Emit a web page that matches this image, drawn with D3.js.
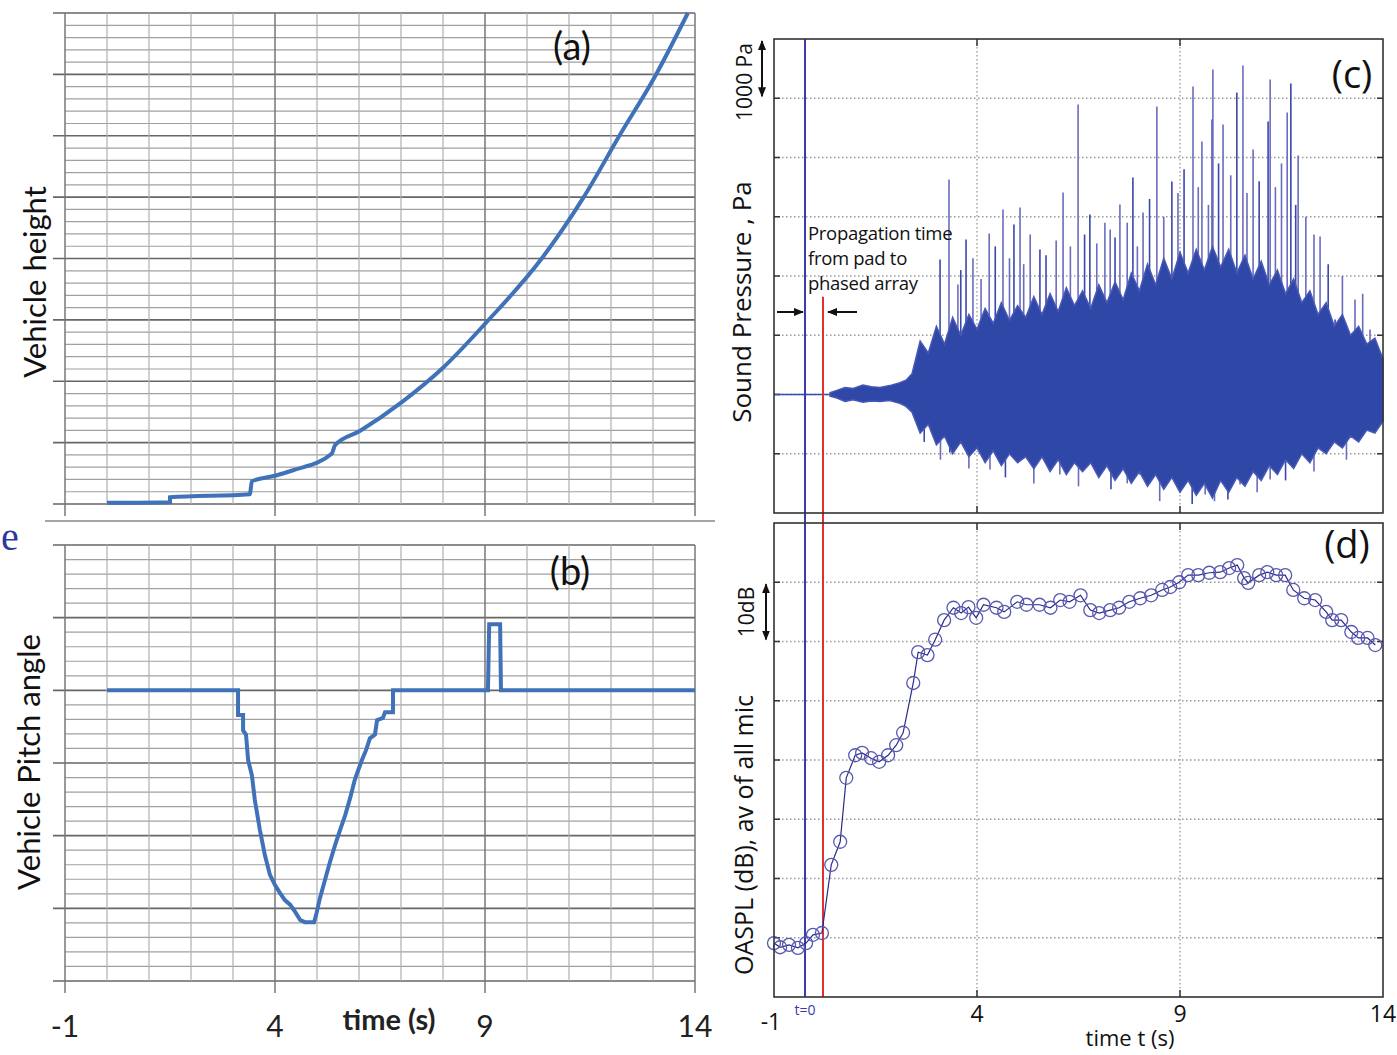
<!DOCTYPE html>
<html><head><meta charset="utf-8">
<script src="https://cdn.jsdelivr.net/npm/d3@7"></script>
<style>
html,body{margin:0;padding:0;background:#fff;}
svg{display:block;}
</style></head>
<body><svg id="c" width="1397" height="1055"></svg>
<script>
// ---------- DATA ----------
// (a) vehicle height, grid units (major divisions), vs time (s)
const heightT = [0, 1.5, 1.5, 3.4, 3.45, 4.0, 4.43, 5.35, 5.43, 6.02, 7.02, 8.0, 9.02, 10.35, 11.35, 12.2, 13.05, 13.83];
const heightV = [0.02, 0.03, 0.11, 0.16, 0.37, 0.46, 0.55, 0.82, 0.96, 1.19, 1.66, 2.22, 2.95, 4.0, 5.0, 6.0, 6.97, 8.0];
// (b) vehicle pitch angle, grid units
const pitchT = [0, 3.12, 3.12, 3.24, 3.24, 3.31, 3.36, 3.45, 3.52, 3.64, 3.76, 3.88, 4.0, 4.12, 4.24, 4.36, 4.48, 4.60, 4.71, 4.93, 4.98, 5.07, 5.19, 5.31, 5.43, 5.55, 5.67, 5.79, 5.90, 5.98, 6.07, 6.17, 6.26, 6.38, 6.43, 6.57, 6.62, 6.81, 6.81, 9.07, 9.10, 9.36, 9.38, 14.0];
const pitchV = [4.0, 4.0, 3.66, 3.66, 3.45, 3.39, 3.04, 2.83, 2.49, 2.08, 1.73, 1.46, 1.32, 1.21, 1.11, 1.05, 0.95, 0.84, 0.81, 0.81, 0.91, 1.14, 1.39, 1.64, 1.87, 2.08, 2.28, 2.52, 2.77, 2.90, 3.04, 3.18, 3.34, 3.39, 3.59, 3.62, 3.70, 3.70, 4.0, 4.0, 4.91, 4.91, 4.0, 4.0];
// (c) sound pressure envelope (Pa)
const envT  = [0.38, 0.55, 0.75, 0.95, 1.19, 1.4, 1.61, 1.85, 2.10, 2.25, 2.4, 2.6, 2.8, 3.0, 3.2, 3.4, 3.6, 3.8, 4.0, 4.2, 4.4, 4.6, 4.8, 5.0, 5.2, 5.4, 5.6, 5.8, 6.0, 6.2, 6.4, 6.6, 6.8, 7.0, 7.2, 7.4, 7.6, 7.8, 8.0, 8.2, 8.4, 8.6, 8.8, 9.0, 9.2, 9.4, 9.6, 9.8, 10.0, 10.2, 10.4, 10.6, 10.8, 11.0, 11.2, 11.4, 11.6, 11.8, 12.0, 12.2, 12.4, 12.6, 12.8, 13.0, 13.2, 13.4, 13.6, 13.8, 14.0];
const envUp = [30, 70, 118, 100, 160, 130, 120, 150, 200, 240, 350, 900, 700, 1150, 850, 1300, 1000, 1350, 1100, 1450, 1200, 1550, 1250, 1500, 1300, 1650, 1350, 1700, 1400, 1800, 1500, 1750, 1450, 1850, 1550, 1900, 1600, 2050, 1750, 2200, 1850, 2300, 1950, 2400, 2050, 2450, 2100, 2500, 2150, 2450, 2050, 2350, 1950, 2250, 1850, 2100, 1700, 1950, 1550, 1750, 1350, 1550, 1150, 1350, 1000, 1150, 850, 950, 600];
const envLo = [-30, -60, -118, -90, -130, -110, -120, -100, -150, -200, -300, -650, -500, -850, -700, -1000, -800, -1050, -900, -1150, -950, -1200, -1000, -1150, -1050, -1250, -1050, -1300, -1100, -1350, -1150, -1300, -1150, -1400, -1200, -1450, -1250, -1500, -1300, -1550, -1350, -1600, -1400, -1650, -1450, -1700, -1500, -1750, -1450, -1650, -1400, -1550, -1300, -1450, -1200, -1350, -1100, -1250, -1000, -1150, -900, -1000, -800, -900, -700, -800, -600, -650, -450];
// (c) individual pressure peaks (Pa)
const spikeT = [3.09, 3.31, 3.53, 3.73, 4.30, 4.64, 4.91, 5.06, 5.31, 5.55, 6.12, 6.49, 6.78, 7.28, 7.52, 7.84, 8.09, 8.43, 8.80, 9.32, 9.54, 9.79, 9.81, 10.06, 10.40, 10.55, 10.80, 11.17, 11.22, 11.64, 11.73, 11.91, 12.45, 12.82, 13.31, 13.68,
                3.6, 3.9, 4.1, 4.45, 4.8, 5.15, 5.7, 5.95, 6.3, 6.65, 6.95, 7.15, 7.4, 7.7, 7.95, 8.25, 8.6, 8.95, 9.1, 9.45, 9.7, 9.95, 10.25, 10.65, 10.95, 11.35, 11.5, 11.85, 12.1, 12.3, 12.65, 13.0, 13.5,
                3.33, 4.32, 6.04, 8.01, 9.0, 9.62, 10.18, 10.48, 11.22, 2.7, 3.1, 3.8, 4.7, 5.4, 6.5, 7.3, 7.7, 8.5, 9.3, 9.85, 10.9, 11.6, 12.3, 13.1];
const spikeV = [2279, 3630, 1857, 2616, 2718, 3123, 2870, 3157, 2700, 2448, 3410, 4895, 3038, 2785, 3207, 3663, 3072, 4861, 3595, 5199, 4270, 4642, 5486, 4558, 5098, 5553, 4136, 4608, 5317, 4760, 5250, 4034, 2667, 1266, 1604, 1097,
                2100, 2300, 1950, 2500, 2300, 2200, 2350, 2600, 2500, 2700, 2550, 2900, 2650, 2900, 2500, 3300, 3000, 3400, 3800, 3500, 3200, 3900, 3700, 3400, 3600, 3500, 3900, 3200, 3000, 2700, 2200, 2000, 1700,
                -979, -1266, -1350, -1350, -1604, -1688, -1772, -1519, -1435, -800, -1100, -1250, -1400, -1500, -1550, -1600, -1500, -1800, -1850, -1800, -1650, -1450, -1300, -1100];
// (d) OASPL averaged over all microphones (dB, relative)
const oasplT = [-1.00, -0.85, -0.63, -0.41, -0.21, -0.04, 0.18, 0.41, 0.63, 0.78, 1.00, 1.17, 1.39, 1.59, 1.81, 2.01, 2.18, 2.43, 2.55, 2.78, 2.97, 3.19, 3.42, 3.61, 3.79, 3.98, 4.16, 4.48, 4.67, 4.99, 5.22, 5.54, 5.81, 6.05, 6.28, 6.55, 6.79, 7.01, 7.28, 7.50, 7.75, 8.02, 8.29, 8.56, 8.76, 8.98, 9.20, 9.45, 9.72, 9.99, 10.21, 10.41, 10.58, 10.68, 10.95, 11.15, 11.37, 11.59, 11.79, 12.06, 12.33, 12.60, 12.75, 12.97, 13.22, 13.39, 13.62, 13.81];
const oasplV = [9.1, 8.4, 8.8, 8.3, 9.1, 10.5, 10.8, 22.3, 26.2, 37.0, 40.8, 41.2, 40.3, 39.7, 40.8, 42.5, 44.6, 53.0, 58.2, 57.7, 60.3, 63.6, 65.7, 64.8, 65.8, 64.0, 66.2, 65.7, 65.0, 66.7, 66.2, 66.2, 65.7, 67.0, 66.7, 67.8, 65.3, 64.8, 65.3, 65.7, 66.7, 67.3, 67.8, 68.7, 69.2, 70.0, 71.2, 71.2, 71.6, 71.7, 72.4, 72.9, 70.7, 69.9, 71.2, 71.7, 71.2, 71.2, 68.7, 67.3, 67.0, 65.0, 63.6, 63.6, 61.6, 60.6, 60.6, 59.4];
const xTicks = [-1, 4, 9, 14];
const tZero = -0.236, tArrival = 0.207, arrivalTopPa = 1650;

// ---------- SCALES ----------
const svg = d3.select("#c");
const xL = d3.scaleLinear([-1, 14], [65, 695]);
const yA = d3.scaleLinear([0, 8], [504, 13]);
const yB = d3.scaleLinear([0, 6], [981, 545]);
const xR = d3.scaleLinear([-1, 14], [774, 1383]);
const yC = d3.scaleLinear([-2000, 6000], [513, 39]);
const yD = d3.scaleLinear([0, 80], [997, 523]);

const leftFont = "Lato, 'Open Sans', sans-serif";
const rightFont = "'Open Sans', 'Noto Sans', sans-serif";

// ---------- LEFT GRIDS ----------
function excelGrid(y, nMajor) {
  const g = svg.append("g");
  const minorVals = d3.range(0, nMajor + 0.001, 0.2);
  minorVals.forEach(v => {
    const isMajor = Math.abs(v - Math.round(v)) < 1e-6;
    g.append("line").attr("x1", isMajor ? 53 : xL(-1)).attr("x2", xL(14))
      .attr("y1", y(v)).attr("y2", y(v))
      .attr("stroke", isMajor ? "#666" : "#a0a0a0").attr("stroke-width", isMajor ? 1.6 : 1.2);
  });
  d3.range(-1, 14.001, 1).forEach(t => {
    const isMajor = xTicks.includes(t);
    g.append("line").attr("x1", xL(t)).attr("x2", xL(t))
      .attr("y1", y(nMajor)).attr("y2", isMajor ? y(0) + 12 : y(0))
      .attr("stroke", isMajor ? "#777" : "#b0b0b0").attr("stroke-width", isMajor ? 1.5 : 1.2);
  });
}
excelGrid(yA, 8);
excelGrid(yB, 6);
svg.append("line").attr("x1", 45).attr("x2", 715).attr("y1", 521).attr("y2", 521).attr("stroke", "#888").attr("stroke-width", 1.5);

const lineA = d3.line().x((d, i) => xL(heightT[i])).y(d => yA(d)).curve(d3.curveMonotoneX);
svg.append("path").attr("d", lineA(heightV)).attr("fill", "none").attr("stroke", "#3f72b8").attr("stroke-width", 4);
const lineB = d3.line().x((d, i) => xL(pitchT[i])).y(d => yB(d));
svg.append("path").attr("d", lineB(pitchV)).attr("fill", "none").attr("stroke", "#3f72b8").attr("stroke-width", 4).attr("stroke-linejoin", "miter");

svg.append("text").attr("x", 572).attr("y", 60).attr("text-anchor", "middle").attr("font-family", leftFont).attr("font-size", 38).attr("fill", "#111").text("(a)");
svg.append("text").attr("x", 570).attr("y", 585).attr("text-anchor", "middle").attr("font-family", leftFont).attr("font-size", 38).attr("fill", "#111").text("(b)");
svg.append("text").attr("transform", "translate(46,282) rotate(-90)").attr("text-anchor", "middle").attr("font-family", leftFont).attr("font-size", 31).attr("fill", "#111").text("Vehicle height");
svg.append("text").attr("transform", "translate(40,762) rotate(-90)").attr("text-anchor", "middle").attr("font-family", leftFont).attr("font-size", 31).attr("fill", "#111").text("Vehicle Pitch angle");
svg.append("text").attr("x", 1).attr("y", 550).attr("font-family", "'Liberation Serif', serif").attr("font-size", 40).attr("fill", "#2b3a9c").text("e");

xTicks.forEach(t => {
  svg.append("text").attr("x", xL(t)).attr("y", 1037).attr("text-anchor", "middle").attr("font-family", "'Liberation Sans Narrow', " + leftFont).attr("font-size", 30).attr("fill", "#222").text(String(t));
});
svg.append("text").attr("x", 389).attr("y", 1030).attr("text-anchor", "middle").attr("font-family", "'Liberation Sans Narrow', " + leftFont).attr("font-weight", "bold").attr("font-size", 29).attr("fill", "#222").text("time (s)");

// ---------- RIGHT PANELS ----------
function matlabFrame(y, gridVals, x0, x1) {
  const g = svg.append("g");
  const [yb, yt] = y.range();
  gridVals.forEach(v => {
    g.append("line").attr("x1", x0).attr("x2", x1).attr("y1", y(v)).attr("y2", y(v))
      .attr("stroke", "#999").attr("stroke-width", 1.3).attr("stroke-dasharray", "1.5,2.5");
    g.append("line").attr("x1", x0).attr("x2", x0 + 6).attr("y1", y(v)).attr("y2", y(v)).attr("stroke", "#333").attr("stroke-width", 1.5);
    g.append("line").attr("x1", x1 - 6).attr("x2", x1).attr("y1", y(v)).attr("y2", y(v)).attr("stroke", "#333").attr("stroke-width", 1.5);
  });
  [4, 9].forEach(t => {
    g.append("line").attr("x1", xR(t)).attr("x2", xR(t)).attr("y1", yt).attr("y2", yb)
      .attr("stroke", "#999").attr("stroke-width", 1.3).attr("stroke-dasharray", "1.5,2.5");
    g.append("line").attr("x1", xR(t)).attr("x2", xR(t)).attr("y1", yb).attr("y2", yb - 7).attr("stroke", "#333").attr("stroke-width", 1.5);
    g.append("line").attr("x1", xR(t)).attr("x2", xR(t)).attr("y1", yt).attr("y2", yt + 7).attr("stroke", "#333").attr("stroke-width", 1.5);
  });
  return g;
}
function frameBox(y) {
  const [yb, yt] = y.range();
  svg.append("rect").attr("x", xR(-1)).attr("y", yt).attr("width", xR(14) - xR(-1)).attr("height", yb - yt)
    .attr("fill", "none").attr("stroke", "#333").attr("stroke-width", 1.6);
}
matlabFrame(yC, d3.range(-1000, 5001, 1000), xR(-1), xR(14));
matlabFrame(yD, d3.range(10, 71, 10), xR(-1), xR(14));

// waveform (c)
const area = d3.area().x((d, i) => xR(envT[i])).y0((d, i) => yC(envLo[i])).y1(d => yC(d));
svg.append("line").attr("x1", xR(-1)).attr("x2", xR(envT[0])).attr("y1", yC(0)).attr("y2", yC(0)).attr("stroke", "#3b4db0").attr("stroke-width", 1.5);
svg.append("g").selectAll("line").data(spikeT).join("line")
  .attr("x1", d => xR(d)).attr("x2", d => xR(d))
  .attr("y1", yC(0)).attr("y2", (d, i) => yC(spikeV[i]))
  .attr("stroke", (d, i) => i % 3 === 0 ? "#3a48a8" : "#6a6cc0").attr("stroke-width", 1.6);
svg.append("path").attr("d", area(envUp)).attr("fill", "#2f48a8").attr("stroke", "#4858b5").attr("stroke-width", 1.5).attr("stroke-linejoin", "miter");

// vertical markers
svg.append("line").attr("x1", xR(tZero)).attr("x2", xR(tZero)).attr("y1", yC.range()[1]).attr("y2", yD.range()[0]).attr("stroke", "#3a3aa8").attr("stroke-width", 2);
svg.append("line").attr("x1", xR(tArrival)).attr("x2", xR(tArrival)).attr("y1", yC(arrivalTopPa)).attr("y2", yD.range()[0]).attr("stroke", "#e03030").attr("stroke-width", 2);

// OASPL (d)
const lineD = d3.line().x((d, i) => xR(oasplT[i])).y(d => yD(d));
svg.append("path").attr("d", lineD(oasplV)).attr("fill", "none").attr("stroke", "#2a2a88").attr("stroke-width", 1.2);
svg.append("g").selectAll("circle").data(oasplV).join("circle")
  .attr("cx", (d, i) => xR(oasplT[i])).attr("cy", d => yD(d)).attr("r", 6.5)
  .attr("fill", "none").attr("stroke", "#5858b0").attr("stroke-width", 1.3);

frameBox(yC);
frameBox(yD);

// arrows
const defs = svg.append("defs");
defs.append("marker").attr("id", "ah").attr("viewBox", "0 0 10 10").attr("refX", 9).attr("refY", 5)
  .attr("markerWidth", 5).attr("markerHeight", 5).attr("orient", "auto-start-reverse")
  .append("path").attr("d", "M0,1 L10,5 L0,9 z").attr("fill", "#111");
function arrow(x1, y1, x2, y2, both) {
  const l = svg.append("line").attr("x1", x1).attr("y1", y1).attr("x2", x2).attr("y2", y2)
    .attr("stroke", "#111").attr("stroke-width", 2).attr("marker-end", "url(#ah)");
  if (both) l.attr("marker-start", "url(#ah)");
}
arrow(762, yC(6000) + 2, 762, yC(5000) - 2, true);
arrow(766, yD(70) + 2, 766, yD(60) - 2, true);
arrow(777, 312, 803, 312, false);
arrow(857, 312, 828, 312, false);

const propFont = 18.5;
svg.append("text").attr("x", 808).attr("y", 240).attr("font-family", rightFont).attr("font-size", propFont).attr("letter-spacing", -0.3).attr("fill", "#111").text("Propagation time");
svg.append("text").attr("x", 808).attr("y", 265).attr("font-family", rightFont).attr("font-size", propFont).attr("letter-spacing", -0.3).attr("fill", "#111").text("from pad to");
svg.append("text").attr("x", 808).attr("y", 290).attr("font-family", rightFont).attr("font-size", propFont).attr("letter-spacing", -0.3).attr("fill", "#111").text("phased array");

svg.append("text").attr("x", 1352).attr("y", 88).attr("text-anchor", "middle").attr("font-family", rightFont).attr("font-size", 38).attr("fill", "#111").text("(c)");
svg.append("text").attr("x", 1347).attr("y", 558).attr("text-anchor", "middle").attr("font-family", rightFont).attr("font-size", 38).attr("fill", "#111").text("(d)");

svg.append("text").attr("transform", "translate(751,302) rotate(-90)").attr("text-anchor", "middle").attr("font-family", rightFont).attr("font-size", 26).attr("fill", "#111").text("Sound Pressure , Pa");
svg.append("text").attr("transform", "translate(752,82) rotate(-90)").attr("text-anchor", "middle").attr("font-family", rightFont).attr("font-size", 21).attr("fill", "#111").text("1000 Pa");
svg.append("text").attr("transform", "translate(753,835) rotate(-90)").attr("text-anchor", "middle").attr("font-family", rightFont).attr("font-size", 25).attr("fill", "#111").text("OASPL (dB), av of all mic");
svg.append("text").attr("transform", "translate(754,612) rotate(-90)").attr("text-anchor", "middle").attr("font-family", rightFont).attr("font-size", 21).attr("fill", "#111").text("10dB");

xTicks.forEach(t => {
  svg.append("text").attr("x", t === -1 ? xR(t) - 3 : xR(t)).attr("y", t === -1 ? 1030 : 1022).attr("text-anchor", "middle")
    .attr("font-family", rightFont).attr("font-size", 23).attr("fill", "#111").text(String(t));
});
svg.append("text").attr("x", xR(tZero)).attr("y", 1015).attr("text-anchor", "middle").attr("font-family", rightFont).attr("font-size", 14).attr("fill", "#3a3ab0").text("t=0");
svg.append("text").attr("x", 1130).attr("y", 1046).attr("text-anchor", "middle").attr("font-family", rightFont).attr("font-size", 22).attr("fill", "#111").text("time t (s)");
</script></body></html>
